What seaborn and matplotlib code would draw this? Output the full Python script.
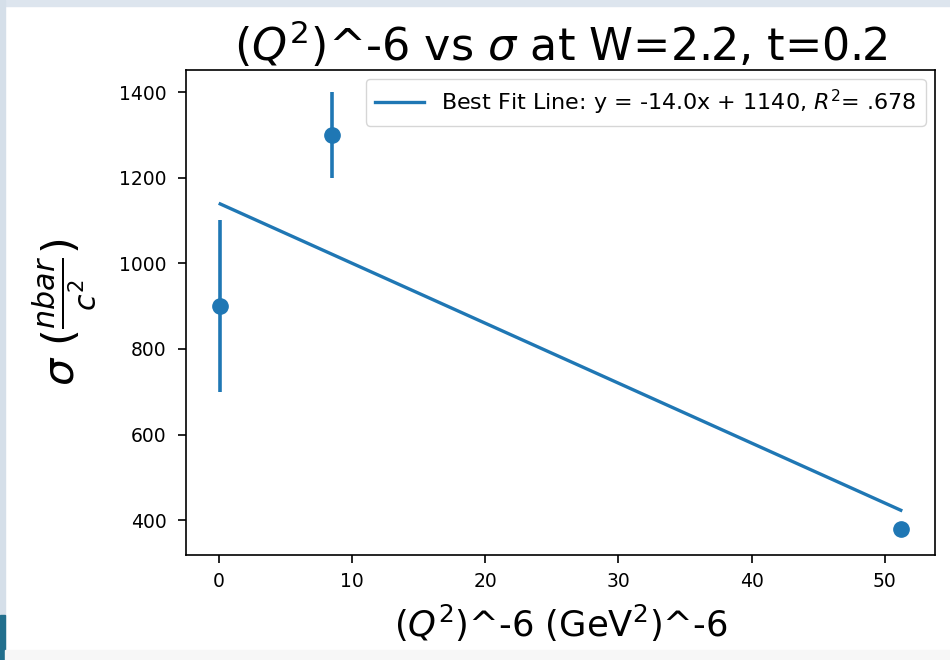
import matplotlib
matplotlib.use('Agg')
import numpy as np
import pandas as pd
import seaborn as sns
import matplotlib.pyplot as plt
from matplotlib.patches import Rectangle

# values
q2_inv6 = [0.1, 8.5, 51.2]
sigma = [900, 1300, 380]
sigma_err = [200, 100, 10]

fit_slope = -14.0
fit_intercept = 1140
fit_label = 'Best Fit Line: y = -14.0x + 1140, $R^2$= .678'

x_ticks = [0, 10, 20, 30, 40, 50]
y_ticks = [400, 600, 800, 1000, 1200, 1400]

plt.rcParams['font.family'] = ['DejaVu Sans']
plt.rcParams['mathtext.fontset'] = 'dejavusans'

fig = plt.figure(figsize=(9.5, 6.6), dpi=100)

# screenshot frame around the plot
fig.patches.append(Rectangle((0, 0.9909), 1, 0.0091, transform=fig.transFigure,
                             color='#dde5ee', zorder=0))
fig.patches.append(Rectangle((0, 0), 0.0053, 1, transform=fig.transFigure,
                             color='#d5dfe9', zorder=0))
fig.patches.append(Rectangle((0, 0), 0.0053, 0.068, transform=fig.transFigure,
                             color='#226f8d', zorder=1))
fig.patches.append(Rectangle((0.0053, 0), 0.9947, 0.0152, transform=fig.transFigure,
                             color='#f7f7f7', zorder=1))

ax = fig.add_axes([0.196, 0.159, 0.788, 0.735])

fit_df = pd.DataFrame({'x': q2_inv6,
                       'y': [fit_slope * v + fit_intercept for v in q2_inv6]})
sns.lineplot(data=fit_df, x='x', y='y', ax=ax, color='#1f77b4', linewidth=2.4,
             label=fit_label)
ax.errorbar(q2_inv6, sigma, yerr=sigma_err, fmt='o', color='#1f77b4',
            markersize=11, elinewidth=2.6, zorder=3)

ax.set_xticks(x_ticks)
ax.set_yticks(y_ticks)
ax.tick_params(labelsize=13.5, length=6, width=1.2)
ax.tick_params(axis='y', pad=8)
ax.tick_params(axis='x', pad=6)
for s in ax.spines.values():
    s.set_linewidth(1.2)

ax.set_title('$(Q^2)$^-6 vs $\\sigma$ at W=2.2, t=0.2', fontsize=32, pad=4)
ax.set_xlabel('$(Q^2)$^-6 (GeV$^2$)^-6', fontsize=25.5, labelpad=9)
ax.set_ylabel('$\\sigma$ $(\\frac{nbar}{c^2})$', fontsize=31, labelpad=15)

ax.legend(loc='upper right', fontsize=16, handlelength=2.2,
          borderaxespad=0.4)

fig.savefig('out.png', dpi=100)
